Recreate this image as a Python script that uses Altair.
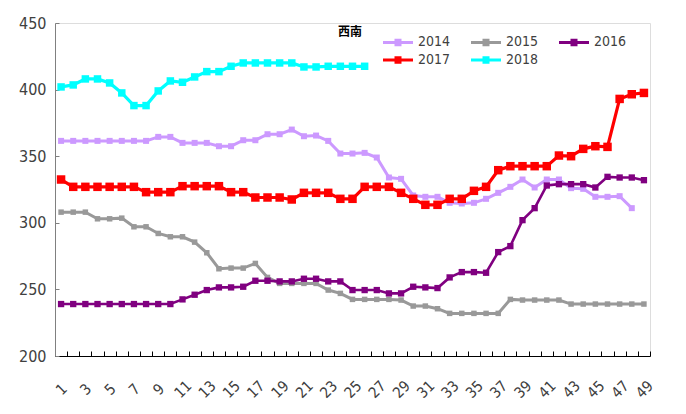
import altair as alt
import pandas as pd

weeks = list(range(1, 50))
years = ["2014", "2015", "2016", "2017", "2018"]
colors = ["#CC99FF", "#999999", "#800080", "#FF0000", "#00FFFF"]

s2014 = [361.5, 361.5, 361.5, 361.5, 361.5, 361.5, 361.5, 361.5, 364.5, 364.5,
         360, 360, 360, 357.5, 357.5, 362, 362, 366.5, 366.5, 370,
         365, 365.5, 361.5, 352, 352, 352.5, 349, 334, 333, 320.5,
         319.5, 319.5, 315, 314.5, 315, 318, 322.5, 327, 332.5, 326.5,
         332.5, 332.5, 326, 325.5, 319.5, 319.5, 320, 311]
s2015 = [308, 308, 308, 303, 303, 303.5, 297, 297, 292, 289.5,
         289.5, 285.5, 277.5, 265.5, 266, 266, 269.5, 259, 254.5, 254.5,
         254.5, 254.5, 249.5, 247, 242.5, 242.5, 242.5, 242.5, 242, 237.5,
         237.5, 235.5, 232, 232, 232, 232, 232, 242.5, 242, 242,
         242, 242, 239, 239, 239, 239, 239, 239, 239]
s2016 = [239, 239, 239, 239, 239, 239, 239, 239, 239, 239,
         242.5, 246, 249.5, 251.5, 251.5, 252, 256.5, 256.5, 256, 256,
         258, 258, 256, 256, 249.5, 249.5, 249.5, 247, 247, 252,
         251.5, 251, 259, 263, 263, 262.5, 278, 282.5, 302, 311,
         328, 329, 329, 329, 326.5, 334.5, 334, 334, 332]
s2017 = [332.5, 327, 327, 327, 327, 327, 327, 323, 323, 323,
         327.5, 327.5, 327.5, 327.5, 323, 323, 319, 319, 319, 317.5,
         322.5, 322.5, 322.5, 318, 318, 327, 327, 327, 322.5, 318,
         313.5, 313.5, 318, 318, 324, 327, 339.5, 342.5, 342.5, 342.5,
         342.5, 350.5, 350, 355.5, 357.5, 357, 393, 396.5, 397.5]
s2018 = [402, 403.5, 408, 408, 405, 397.5, 388, 388, 399, 406.5,
         405.5, 409.5, 413.5, 413.5, 417.5, 420, 420, 420, 420, 420,
         417, 417, 417.5, 417.5, 417.5, 417.5]

series = dict(zip(years, [s2014, s2015, s2016, s2017, s2018]))
marker_sizes = dict(zip(years, [36, 30, 40, 72, 56]))
line_widths = dict(zip(years, [3, 3, 2.6, 3.2, 3.2]))
region_title = "西南"

rows = []
for y, vals in series.items():
    for w, v in zip(weeks, vals):
        rows.append({"week": w, "year": y, "price": v})
df = pd.DataFrame(rows)

FONT = "Liberation Sans Narrow, DejaVu Sans Condensed, Liberation Sans, sans-serif"
TXT = "#404040"

x_enc = alt.X(
    "week:O",
    scale=alt.Scale(type="band", domain=weeks, paddingInner=0, paddingOuter=0),
    axis=alt.Axis(
        title=None,
        labelAngle=315,
        labelAlign="center",
        labelBaseline="middle",
        labelExpr="datum.value % 2 == 1 ? datum.label : ''",
        labelPadding=38,
        tickBand="extent",
        tickSize={"expr": "-5"},
        tickColor="#000000",
        domainColor="#000000",
        labelFont=FONT,
        labelFontSize=15,
        labelColor=TXT,
        grid=False,
    ),
)
y_enc = alt.Y(
    "price:Q",
    scale=alt.Scale(domain=[200, 450], nice=False, zero=False),
    axis=alt.Axis(
        title=None,
        values=[200, 250, 300, 350, 400, 450],
        tickSize={"expr": "-4"},
        tickColor="#808080",
        domainColor="#808080",
        labelPadding=13,
        labelFont=FONT,
        labelFontSize=16,
        labelColor=TXT,
        grid=False,
    ),
)

legend = alt.Legend(
    title=None,
    orient="none",
    legendX=336,
    legendY=12,
    columns=3,
    direction="horizontal",
    gridAlign="all",
    symbolType="M-3,0L3,0M-0.7,-0.45L0.7,-0.45M-0.7,0.45L0.7,0.45",
    symbolSize=100,
    symbolStrokeWidth=3,
    labelOffset=13,
    columnPadding=14,
    rowPadding=0,
    labelFont=FONT,
    labelFontSize=14,
    labelColor=TXT,
    padding=0,
)

color_scale = alt.Scale(domain=years, range=colors)

layers = []
for y in years:
    base = alt.Chart(df).transform_filter(alt.datum.year == y)
    line = base.mark_line(strokeWidth=line_widths[y]).encode(
        x=x_enc, y=y_enc,
        color=alt.Color("year:N", scale=color_scale, legend=legend),
    )
    pts = base.mark_point(shape="square", filled=True, opacity=1, size=marker_sizes[y]).encode(
        x=x_enc, y=y_enc,
        fill=alt.Fill("year:N", scale=color_scale, legend=None),
    )
    layers += [line, pts]

title_df = pd.DataFrame({"t": [region_title]})
title = alt.Chart(title_df).mark_text(
    font="Noto Sans CJK SC", fontSize=12, fontWeight="bold", color="#000000"
).encode(text="t:N", x=alt.value(295), y=alt.value(9))

chart = alt.layer(*layers, title).properties(
    width=595,
    height=333,
    autosize=alt.AutoSizeParams(type="none"),
    padding={"left": 47, "top": 15, "right": 28, "bottom": 50},
).configure_view(stroke=None).configure(background="white")

chart.save("out.html", embed_options={"renderer": "svg", "actions": False})
